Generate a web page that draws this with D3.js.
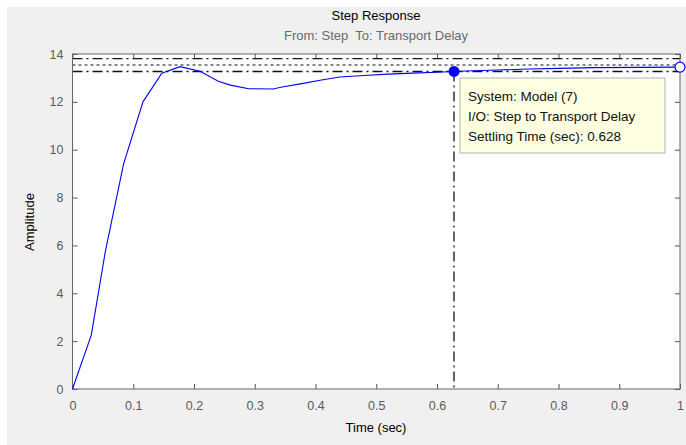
<!DOCTYPE html>
<html>
<head>
<meta charset="utf-8">
<script src="https://cdn.jsdelivr.net/npm/d3@7"></script>
<style>
  body { margin: 0; background: #fff; }
  svg { display: block; font-family: "Liberation Sans", Arial, sans-serif; }
</style>
</head>
<body>
<svg id="chart" width="686" height="445"></svg>
<script>
// Step response samples
const timeSec = [0, 0.031, 0.054, 0.084, 0.116, 0.147, 0.177, 0.21, 0.24, 0.26, 0.29, 0.33,
  0.345, 0.375, 0.41, 0.44, 0.48, 0.52, 0.56, 0.6, 0.628, 0.66, 0.70, 0.75, 0.80, 0.86, 0.93, 1.0];
const amplitude = [0, 2.26, 5.74, 9.4, 12.0, 13.2, 13.47, 13.28, 12.86, 12.7, 12.55, 12.54,
  12.62, 12.75, 12.91, 13.04, 13.1, 13.16, 13.2, 13.24, 13.27, 13.3, 13.33, 13.37, 13.4, 13.43, 13.44, 13.45];

const xTicks = [0, 0.1, 0.2, 0.3, 0.4, 0.5, 0.6, 0.7, 0.8, 0.9, 1];
const yTicks = [0, 2, 4, 6, 8, 10, 12, 14];

const finalValue = 13.54;
const settleBand = 0.02;
const settlingTime = 0.628;
const settlingValue = 13.27;

const tipLines = ['System: Model (7)', 'I/O: Step to Transport Delay', 'Settling Time (sec): 0.628'];

const svg = d3.select('#chart');
const plot = { left: 72.5, right: 680, top: 54, bottom: 389 };

// figure background
svg.append('rect').attr('x', 7).attr('y', 7).attr('width', 679).attr('height', 438).attr('fill', '#f0f0f0');

const x = d3.scaleLinear().domain([0, 1]).range([plot.left, plot.right]);
const y = d3.scaleLinear().domain([0, 14]).range([plot.bottom, plot.top]);

svg.append('rect')
  .attr('x', plot.left).attr('y', plot.top)
  .attr('width', plot.right - plot.left).attr('height', plot.bottom - plot.top)
  .attr('fill', '#fff');

// titles
svg.append('text').attr('x', 376).attr('y', 20).attr('text-anchor', 'middle')
  .style('font-size', '13px').style('fill', '#000').text('Step Response');
svg.append('text').attr('x', 376).attr('y', 40).attr('text-anchor', 'middle')
  .style('font-size', '13px').style('fill', '#6a6a6a').style('white-space', 'pre')
  .text('From: Step  To: Transport Delay');

// axes with inward ticks on all four sides
const tickStyle = sel => {
  sel.select('.domain').remove();
  sel.selectAll('line').attr('stroke', '#555');
  sel.selectAll('text').attr('font-family', null).style('font-size', '12.5px').style('fill', '#5a5a5a');
};

svg.append('g').attr('transform', `translate(0,${plot.bottom})`)
  .call(d3.axisBottom(x).tickValues(xTicks).tickSizeInner(-5).tickSizeOuter(0).tickPadding(12).tickFormat(d3.format('')))
  .call(tickStyle);
svg.append('g').attr('transform', `translate(0,${plot.top})`)
  .call(d3.axisTop(x).tickValues(xTicks).tickSizeInner(-5).tickSizeOuter(0).tickFormat(''))
  .call(tickStyle);
svg.append('g').attr('transform', `translate(${plot.left},0)`)
  .call(d3.axisLeft(y).tickValues(yTicks).tickSizeInner(-5).tickSizeOuter(0).tickPadding(9))
  .call(tickStyle);
svg.append('g').attr('transform', `translate(${plot.right},0)`)
  .call(d3.axisRight(y).tickValues(yTicks).tickSizeInner(-5).tickSizeOuter(0).tickFormat(''))
  .call(tickStyle);

// settling band and final value lines
const dashDot = '10,4,2,4';
[finalValue * (1 + settleBand), finalValue * (1 - settleBand)].forEach(v => {
  svg.append('line').attr('x1', plot.left).attr('x2', plot.right).attr('y1', y(v)).attr('y2', y(v))
    .attr('stroke', '#111').attr('stroke-width', 1.3).attr('stroke-dasharray', dashDot);
});
svg.append('line').attr('x1', plot.left).attr('x2', plot.right).attr('y1', y(finalValue)).attr('y2', y(finalValue))
  .attr('stroke', '#111').attr('stroke-width', 1.2).attr('stroke-dasharray', '3,3');

// vertical settling time marker
svg.append('line').attr('x1', x(settlingTime)).attr('x2', x(settlingTime))
  .attr('y1', y(settlingValue)).attr('y2', plot.bottom)
  .attr('stroke', '#111').attr('stroke-width', 1.3).attr('stroke-dasharray', dashDot);

// frame
svg.append('rect')
  .attr('x', plot.left).attr('y', plot.top)
  .attr('width', plot.right - plot.left).attr('height', plot.bottom - plot.top)
  .attr('fill', 'none').attr('stroke', '#666');

// response curve
const line = d3.line().x((d, i) => x(timeSec[i])).y(d => y(d));
svg.append('path').datum(amplitude)
  .attr('d', line).attr('fill', 'none').attr('stroke', '#0000ff').attr('stroke-width', 1.1);

// settling point and end marker
svg.append('circle').attr('cx', x(settlingTime)).attr('cy', y(settlingValue)).attr('r', 5.5)
  .attr('fill', '#0000ff');
svg.append('circle').attr('cx', x(timeSec[timeSec.length - 1])).attr('cy', y(amplitude[amplitude.length - 1]))
  .attr('r', 5).attr('fill', '#fff').attr('stroke', '#0000ff').attr('stroke-width', 1.2);

// data tip
const tip = svg.append('g').attr('transform', 'translate(460,78)');
tip.append('rect').attr('width', 205).attr('height', 75)
  .attr('fill', '#ffffe1').attr('stroke', '#b4b4b4');
tip.selectAll('text.tip').data(tipLines).join('text')
  .attr('class', 'tip')
  .attr('x', 8).attr('y', (d, i) => 23 + i * 20)
  .style('font-size', '13.5px').style('fill', '#111')
  .text(d => d);

// axis labels
svg.append('text').attr('x', 376).attr('y', 432).attr('text-anchor', 'middle')
  .style('font-size', '13px').style('fill', '#000').text('Time (sec)');
svg.append('text').attr('transform', 'translate(34,222) rotate(-90)').attr('text-anchor', 'middle')
  .style('font-size', '13px').style('fill', '#000').text('Amplitude');
</script>
</body>
</html>
